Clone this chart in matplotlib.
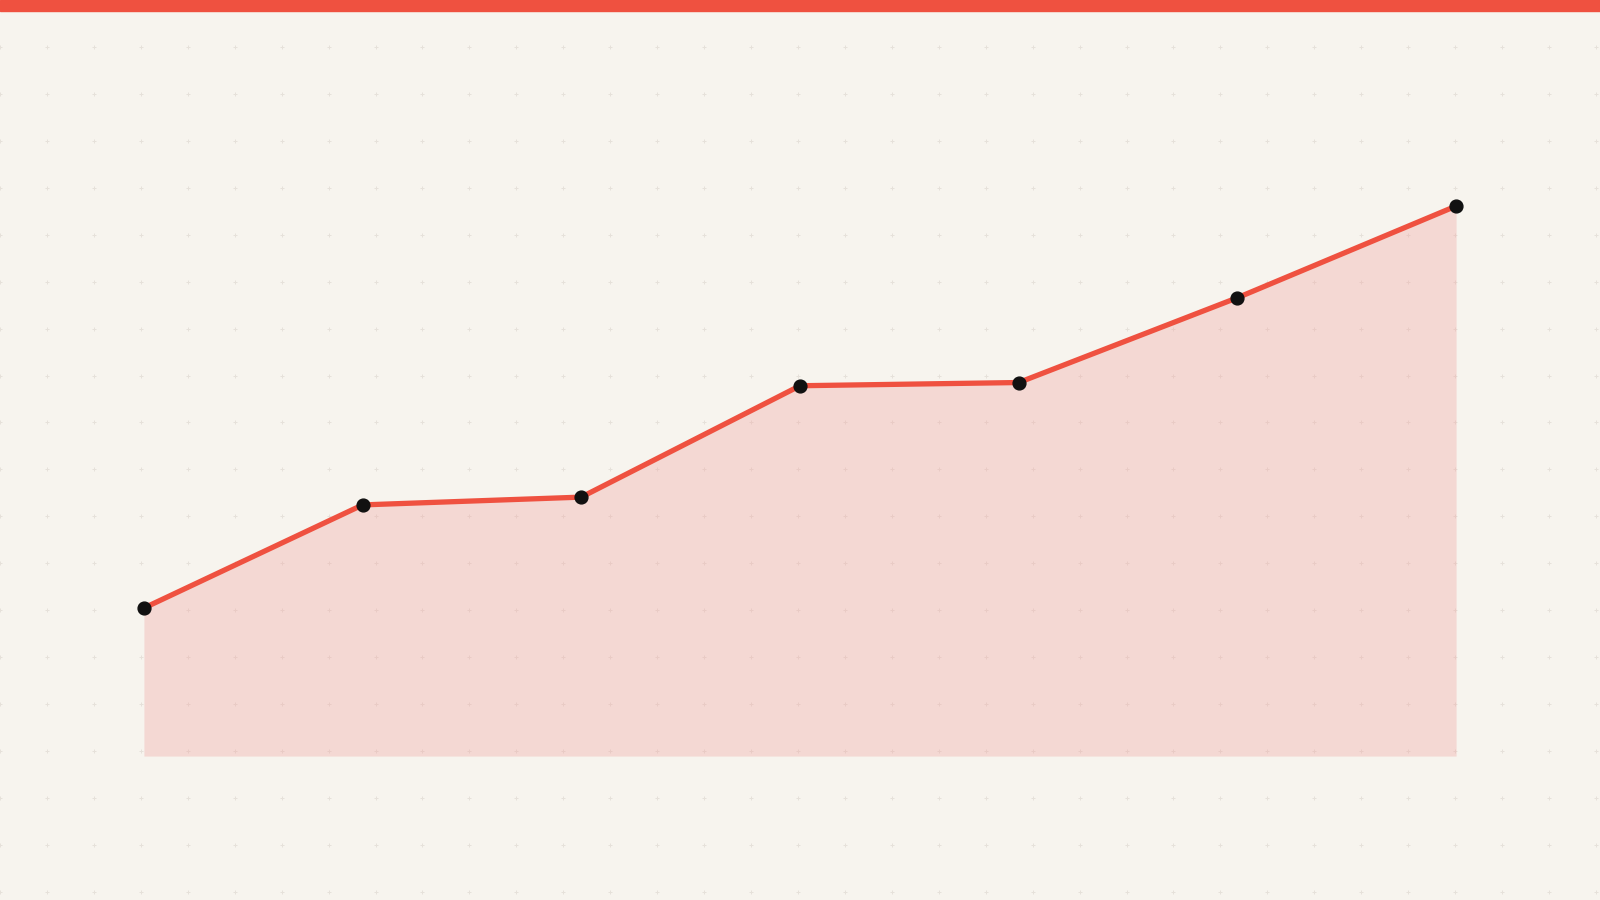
import numpy as np
import matplotlib.pyplot as plt
from matplotlib.patches import Rectangle

# Data
categories = list(range(7))
values = [32.3, 54.8, 56.5, 80.8, 81.5, 100.0, 120.0]

# Style
bg_color = '#f7f4ee'
red = '#ef5140'
fill_color = '#f09a97'
dot_color = '#e6e1da'

fig = plt.figure(figsize=(16, 9), dpi=100)
fig.patch.set_facecolor(bg_color)

# faint "+" dot grid in the background (reference frame 1568 x 882)
bg = fig.add_axes([0, 0, 1, 1], zorder=0)
bg.set_xlim(0, 1568)
bg.set_ylim(882, 0)
bg.axis('off')
gx, gy = np.meshgrid(np.arange(0, 1568, 46), np.arange(46, 882, 46))
bg.scatter(gx.ravel(), gy.ravel(), marker='+', s=10, linewidths=0.7,
           color=dot_color)

# main chart
ax = fig.add_axes([0, 0, 1, 1], zorder=1)
ax.patch.set_alpha(0)
ax.axis('off')
ax.set_xlim(-0.658, 6.658)
ax.set_ylim(-31.4, 164.96)

ax.fill_between(categories, 0, values, color=fill_color, alpha=0.3,
                linewidth=0)
ax.plot(categories, values, color=red, linewidth=3.8, solid_capstyle='butt',
        zorder=3)
ax.scatter(categories, values, s=85, color='#111111', zorder=4)

# top accent bar
fig.patches.append(Rectangle((0, 1 - 10.5 / 882), 1, 10.5 / 882,
                             transform=fig.transFigure, color=red, zorder=5))

fig.savefig('out.png', dpi=100, facecolor=fig.get_facecolor())
